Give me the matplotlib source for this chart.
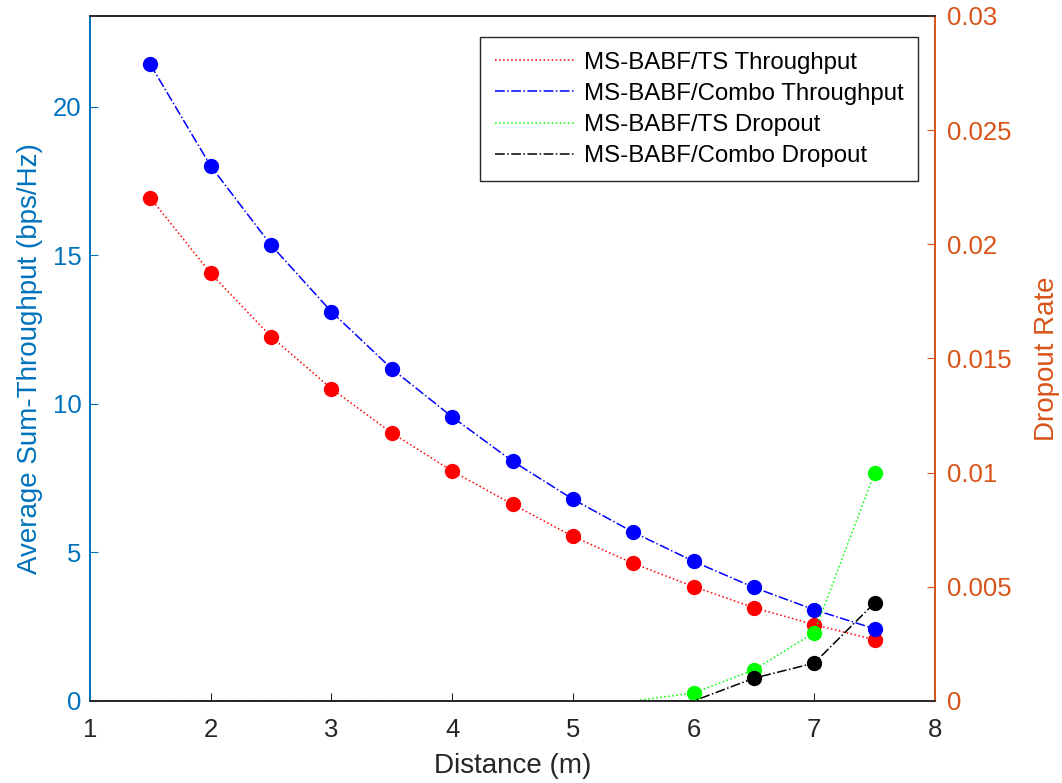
import numpy as np
import matplotlib.pyplot as plt

plt.rcParams['font.family'] = ['Liberation Sans', 'DejaVu Sans']

# distances (m)
distance = [1.5, 2, 2.5, 3, 3.5, 4, 4.5, 5, 5.5, 6, 6.5, 7, 7.5]

# throughput (bps/Hz), left axis
ts_throughput = [16.93, 14.39, 12.26, 10.51, 9.02, 7.74, 6.62, 5.54, 4.63, 3.85, 3.14, 2.57, 2.06]
combo_throughput = [21.42, 18.0, 15.34, 13.1, 11.18, 9.56, 8.07, 6.79, 5.68, 4.70, 3.82, 3.07, 2.43]

# dropout rate, right axis
ts_dropout = [0, 0, 0, 0, 0, 0, 0, 0, 0, 0.00035, 0.00136, 0.003, 0.01]
combo_dropout = [0, 0, 0, 0, 0, 0, 0, 0, 0, 0, 0.001, 0.00166, 0.0043]

left_col = (0, 0.447, 0.741)
right_col = (0.85, 0.325, 0.098)
ax_col = (0.15, 0.15, 0.15)

fig = plt.figure(figsize=(10.62, 7.83), dpi=100)
ax = fig.add_axes([90 / 1062, 82 / 783, 845 / 1062, 685 / 783])
ax2 = ax.twinx()

x = np.array(distance)

l1, = ax.plot(x, ts_throughput, ':', color='r', lw=1.1, label='MS-BABF/TS Throughput')
ax.plot(x, ts_throughput, 'o', color='r', ms=10, ls='none')
l2, = ax.plot(x, combo_throughput, '-.', color='b', lw=1.1, label='MS-BABF/Combo Throughput')
ax.plot(x, combo_throughput, 'o', color='b', ms=10, ls='none')

tsd = np.array(ts_dropout)
cbd = np.array(combo_dropout)
l3, = ax2.plot(x, tsd, ':', color=(0, 1, 0), lw=1.1, label='MS-BABF/TS Dropout')
ax2.plot(x[tsd > 0], tsd[tsd > 0], 'o', color=(0, 1, 0), ms=10, ls='none')
l4, = ax2.plot(x, cbd, '-.', color='k', lw=1.1, label='MS-BABF/Combo Dropout')
ax2.plot(x[cbd > 0], cbd[cbd > 0], 'o', color='k', ms=10, ls='none')

ax.set_xlim(1, 8)
ax.set_ylim(0, 23.05)
ax2.set_ylim(0, 0.03)
ax.set_xticks(range(1, 9))
ax.set_yticks([0, 5, 10, 15, 20])
ax2.set_yticks([0, 0.005, 0.01, 0.015, 0.02, 0.025, 0.03])
ax2.set_yticklabels(['0', '0.005', '0.01', '0.015', '0.02', '0.025', '0.03'])

ax.set_xlabel('Distance (m)', fontsize=20, color=ax_col, labelpad=8)
ax.set_ylabel('Average Sum-Throughput (bps/Hz)', fontsize=20, color=left_col, labelpad=7)
ax2.set_ylabel('Dropout Rate', fontsize=20, color=right_col, labelpad=16)

ax.tick_params(axis='x', direction='in', labelsize=18.5, colors=ax_col, length=6, pad=12)
ax.tick_params(axis='y', direction='in', labelsize=18.5, colors=left_col, length=6, pad=6)
ax2.tick_params(axis='y', direction='in', labelsize=18.5, colors=right_col, length=6, pad=9)

for a in (ax, ax2):
    a.spines['top'].set_color(ax_col)
    a.spines['bottom'].set_color(ax_col)
    a.spines['left'].set_color(left_col)
    a.spines['right'].set_color(right_col)
    for s in a.spines.values():
        s.set_linewidth(1.2)

leg = ax2.legend(handles=[l1, l2, l3, l4], loc='upper right', bbox_to_anchor=(0.98, 0.969),
                 fontsize=17.3, fancybox=False, edgecolor=ax_col, framealpha=1,
                 handlelength=3.4, borderpad=0.6, labelspacing=0.38, handletextpad=0.32,
                 borderaxespad=0)
leg.get_frame().set_linewidth(1)

fig.savefig('out.png', dpi=100)
